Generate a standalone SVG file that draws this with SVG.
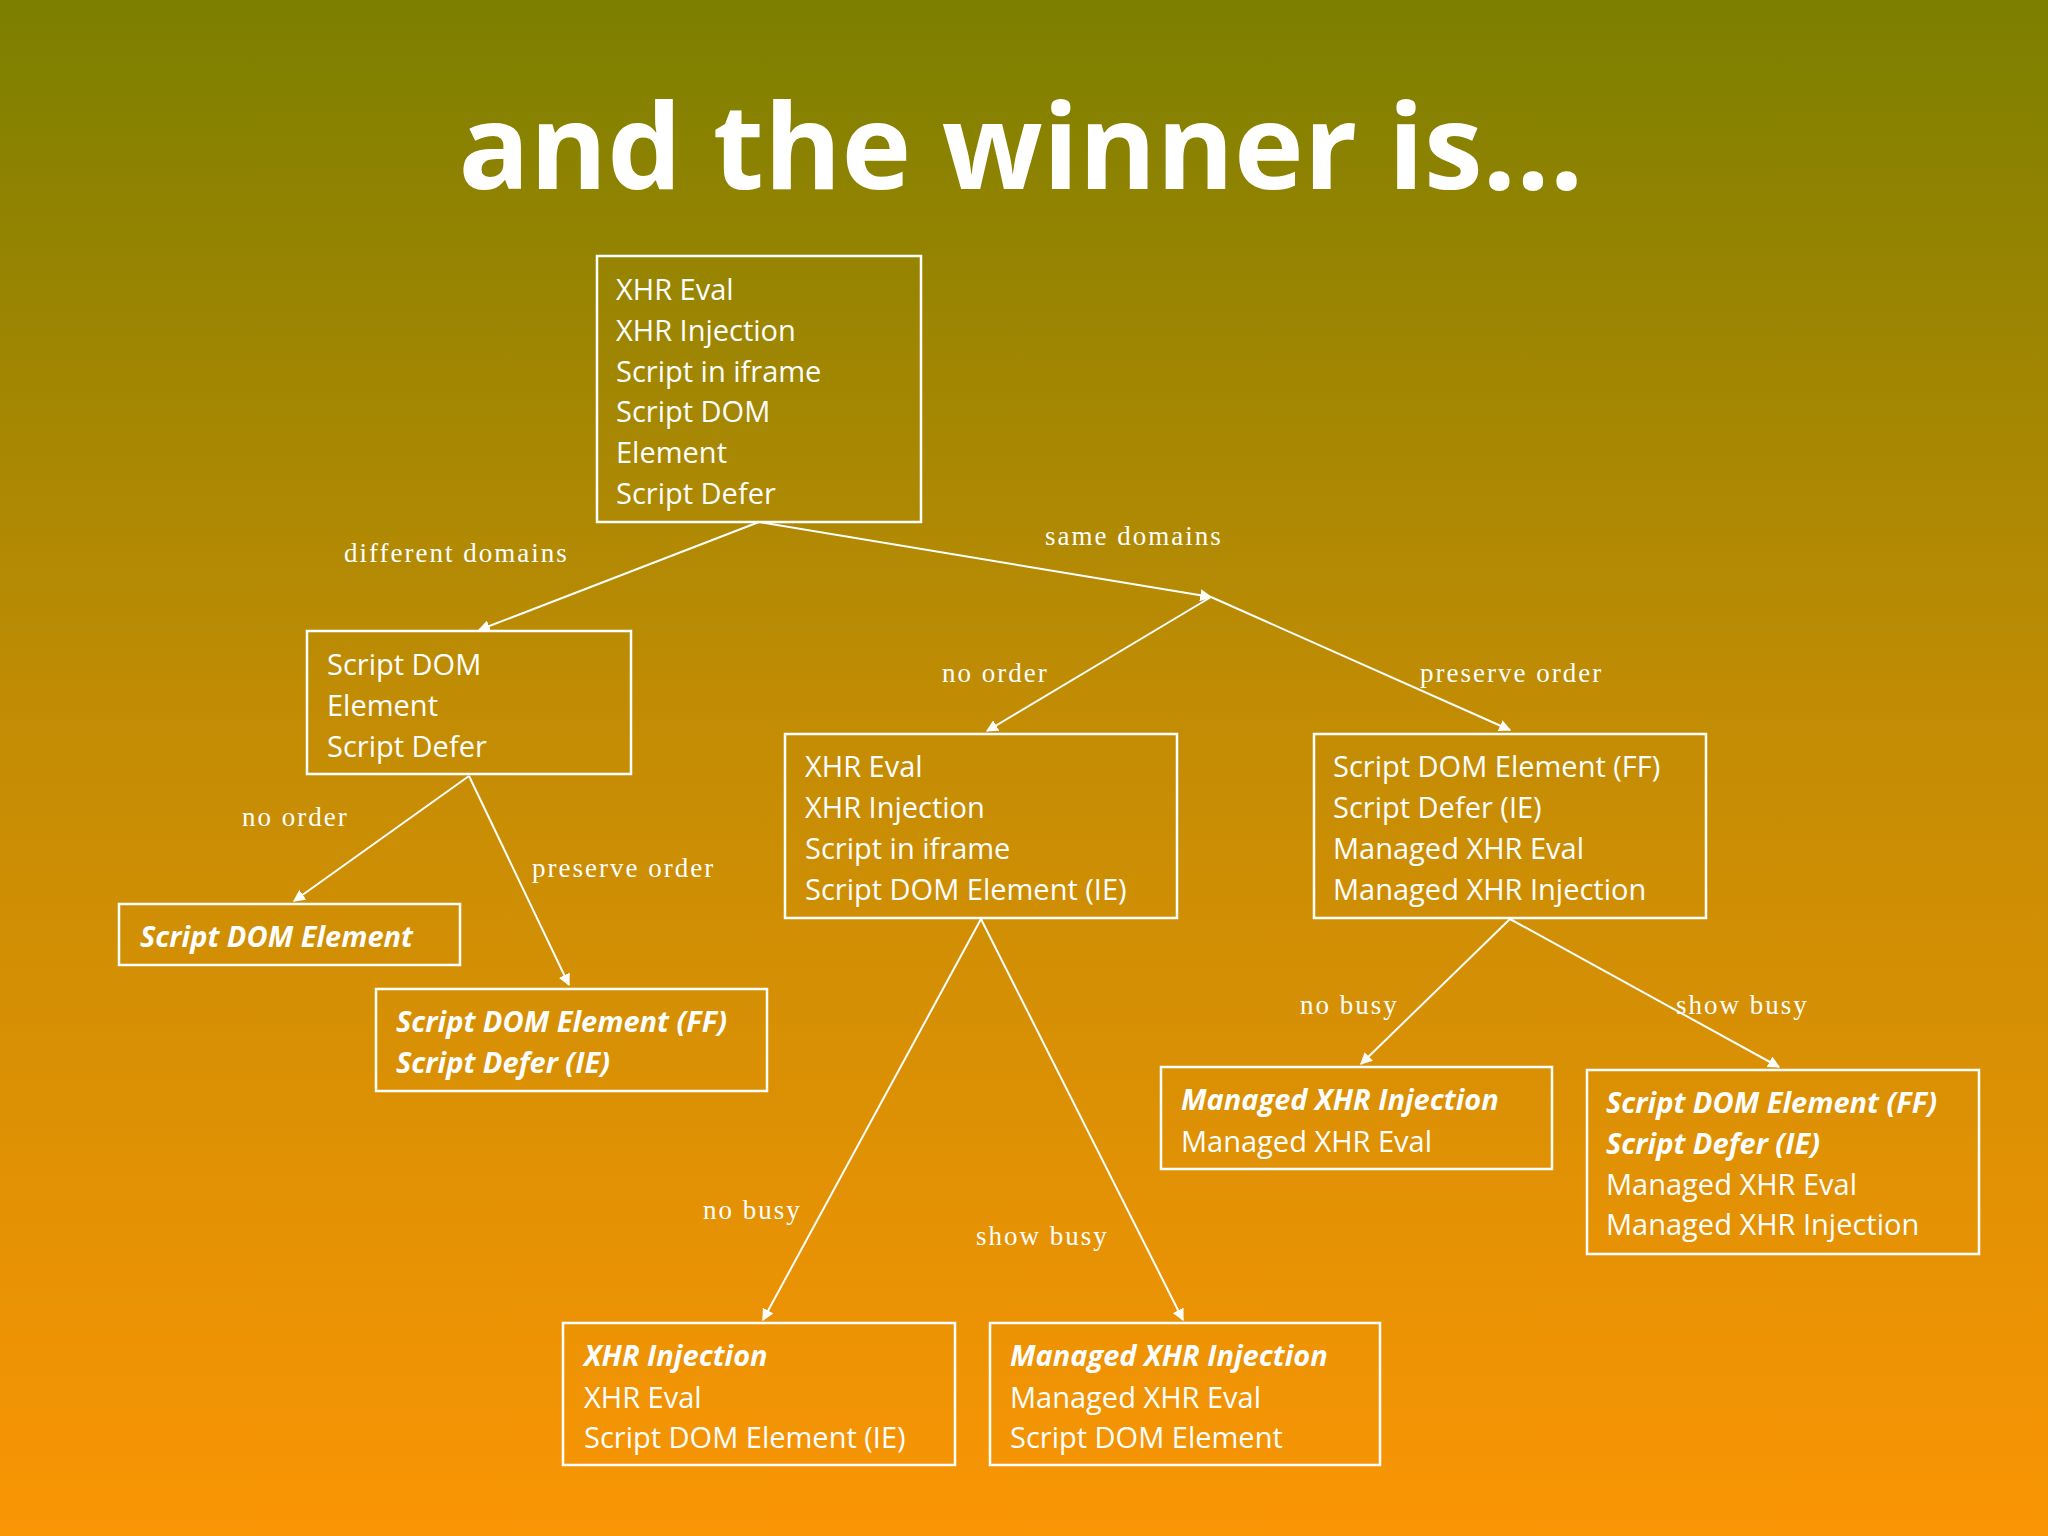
<svg xmlns="http://www.w3.org/2000/svg" width="2048" height="1536" viewBox="0 0 2048 1536">
<defs>
<linearGradient id="bg" x1="0" y1="0" x2="0" y2="1">
<stop offset="0" stop-color="#7c7f00"/>
<stop offset="0.45" stop-color="#c08c04"/>
<stop offset="1" stop-color="#fa9504"/>
</linearGradient>
<marker id="ah" viewBox="0 0 10 10" refX="9" refY="5" markerWidth="12" markerHeight="12" markerUnits="userSpaceOnUse" orient="auto">
<path d="M0,0 L10,5 L0,10 z" fill="#fff"/>
</marker>
<style>
.box{fill:none;stroke:#fff;stroke-width:2.5}
.t{font-family:"Open Sans","DejaVu Sans",sans-serif;font-size:29px;fill:#fff}
.b{font-weight:bold;font-style:italic}
.lbl{font-family:"Liberation Serif",serif;font-size:27px;fill:#fff;letter-spacing:2px}
.c line{stroke:#fff;stroke-width:2}
</style>
</defs>
<rect width="2048" height="1536" fill="url(#bg)"/>
<text x="1021" y="189" text-anchor="middle" font-family="Open Sans, sans-serif" font-weight="bold" font-size="118" fill="#fff">and the winner is…</text>

<g class="c">
<line x1="759" y1="522" x2="479" y2="630" marker-end="url(#ah)"/>
<line x1="759" y1="522" x2="1211" y2="597" marker-end="url(#ah)"/>
<line x1="1211" y1="597" x2="987" y2="731" marker-end="url(#ah)"/>
<line x1="1211" y1="597" x2="1510" y2="730" marker-end="url(#ah)"/>
<line x1="469" y1="776" x2="294" y2="901" marker-end="url(#ah)"/>
<line x1="469" y1="776" x2="569" y2="985" marker-end="url(#ah)"/>
<line x1="981" y1="919" x2="763" y2="1320" marker-end="url(#ah)"/>
<line x1="981" y1="919" x2="1183" y2="1320" marker-end="url(#ah)"/>
<line x1="1510" y1="919" x2="1361" y2="1064" marker-end="url(#ah)"/>
<line x1="1510" y1="919" x2="1779" y2="1067" marker-end="url(#ah)"/>
</g>
<g id="labels">
<text class="lbl" x="344" y="562">different domains</text>
<text class="lbl" x="1045" y="545">same domains</text>
<text class="lbl" x="942" y="682">no order</text>
<text class="lbl" x="1420" y="682">preserve order</text>
<text class="lbl" x="242" y="826">no order</text>
<text class="lbl" x="532" y="877">preserve order</text>
<text class="lbl" x="1300" y="1014">no busy</text>
<text class="lbl" x="1676" y="1014">show busy</text>
<text class="lbl" x="703" y="1219">no busy</text>
<text class="lbl" x="976" y="1245">show busy</text>
</g>

<g id="n1"><rect class="box" x="597" y="256" width="324" height="266"/>
<text class="t" x="616" y="300">XHR Eval</text><text class="t" x="616" y="341">XHR Injection</text><text class="t" x="616" y="382">Script in iframe</text><text class="t" x="616" y="422">Script DOM</text><text class="t" x="616" y="463">Element</text><text class="t" x="616" y="504">Script Defer</text></g>
<g id="n2"><rect class="box" x="307" y="631" width="324" height="143"/>
<text class="t" x="327" y="675">Script DOM</text><text class="t" x="327" y="716">Element</text><text class="t" x="327" y="757">Script Defer</text></g>
<g id="n3"><rect class="box" x="785" y="734" width="392" height="184"/>
<text class="t" x="805" y="777">XHR Eval</text><text class="t" x="805" y="818">XHR Injection</text><text class="t" x="805" y="859">Script in iframe</text><text class="t" x="805" y="900">Script DOM Element (IE)</text></g>
<g id="n4"><rect class="box" x="1314" y="734" width="392" height="184"/>
<text class="t" x="1333" y="777">Script DOM Element (FF)</text><text class="t" x="1333" y="818">Script Defer (IE)</text><text class="t" x="1333" y="859">Managed XHR Eval</text><text class="t" x="1333" y="900">Managed XHR Injection</text></g>
<g id="n5"><rect class="box" x="119" y="904" width="341" height="61"/>
<text class="t b" x="140" y="947">Script DOM Element</text></g>
<g id="n6"><rect class="box" x="376" y="989" width="391" height="102"/>
<text class="t b" x="396" y="1032">Script DOM Element (FF)</text><text class="t b" x="396" y="1073">Script Defer (IE)</text></g>
<g id="n7"><rect class="box" x="1161" y="1067" width="391" height="102"/>
<text class="t b" x="1181" y="1110">Managed XHR Injection</text><text class="t" x="1181" y="1152">Managed XHR Eval</text></g>
<g id="n8"><rect class="box" x="1587" y="1070" width="392" height="184"/>
<text class="t b" x="1606" y="1113">Script DOM Element (FF)</text><text class="t b" x="1606" y="1154">Script Defer (IE)</text><text class="t" x="1606" y="1195">Managed XHR Eval</text><text class="t" x="1606" y="1235">Managed XHR Injection</text></g>
<g id="n9"><rect class="box" x="563" y="1323" width="392" height="142"/>
<text class="t b" x="584" y="1366">XHR Injection</text><text class="t" x="584" y="1408">XHR Eval</text><text class="t" x="584" y="1448">Script DOM Element (IE)</text></g>
<g id="n10"><rect class="box" x="990" y="1323" width="390" height="142"/>
<text class="t b" x="1010" y="1366">Managed XHR Injection</text><text class="t" x="1010" y="1408">Managed XHR Eval</text><text class="t" x="1010" y="1448">Script DOM Element</text></g>
</svg>
